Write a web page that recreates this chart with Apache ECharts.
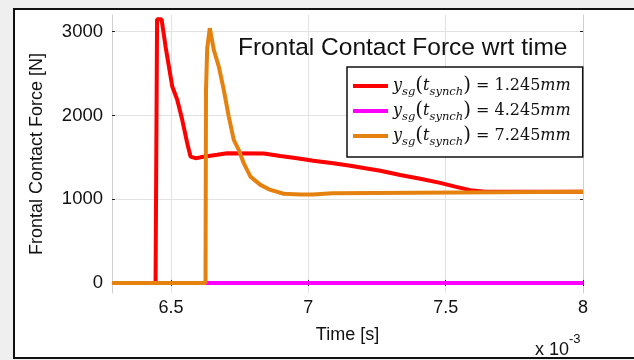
<!DOCTYPE html>
<html><head><meta charset="utf-8">
<script src="https://cdn.jsdelivr.net/npm/echarts@6/dist/echarts.min.js"></script>
<style>html,body{margin:0;padding:0;background:#efefef}#c{width:634px;height:360px}</style>
</head><body><div id="c"></div>
<script>
// time in ms (axis shows x 10^-3 s), force in N
const redT = [6.285, 6.4436, 6.4491, 6.4655, 6.480, 6.5044, 6.5225, 6.5407, 6.5589, 6.5709, 6.5891, 6.6073, 6.668, 6.7044, 6.8375, 6.8982, 6.9589, 7.0182, 7.0909, 7.1527, 7.2618, 7.3345, 7.4073, 7.48, 7.5345, 7.5891, 7.6436, 8.0];
const redF = [0, 0, 3150, 3150, 2823, 2346, 2187, 1948, 1669, 1509, 1490, 1500, 1530, 1550, 1545, 1515, 1490, 1460, 1430, 1400, 1340, 1290, 1245, 1195, 1150, 1108, 1090, 1088];
const magT = [6.285, 8.0];
const magF = [0, 0];
const oraT = [6.285, 6.6255, 6.6273, 6.6316, 6.6411, 6.6556, 6.6738, 6.692, 6.7102, 6.7284, 6.7465, 6.7647, 6.7891, 6.8255, 6.8618, 6.9102, 6.9709, 7.0164, 7.02, 7.0873, 7.0909, 8.0];
const oraF = [0, 0, 2300, 2800, 3043, 2784, 2585, 2306, 1987, 1709, 1589, 1430, 1270, 1171, 1111, 1065, 1055, 1055, 1072, 1072, 1088, 1088];
const xTicks = [6.5, 7, 7.5, 8];
const yTicks = [0, 1000, 2000, 3000];
const legendVals = ['1.245', '4.245', '7.245'];
const seriesNames = ['s1', 's2', 's3'];

const zip = (a, b) => a.map((v, i) => [v, b[i]]);
const chart = echarts.init(document.getElementById('c'));
const sans = 'Liberation Sans';
const serif = 'DejaVu Serif';
const tickStyle = { show: true, inside: true, length: 3, lineStyle: { color: '#222', width: 1 } };
const lineC = '#cfcfcf';
chart.setOption({
  animation: false,
  backgroundColor: 'transparent',
  graphic: [
    { type: 'rect', z: -100, shape: { x: 0, y: 0, width: 634, height: 360 }, style: { fill: '#efefef' }, silent: true },
    { type: 'rect', z: -99, shape: { x: 14, y: 9, width: 640, height: 349 }, style: { fill: '#fff', stroke: '#111', lineWidth: 2 }, silent: true },
    { type: 'text', left: 535, top: 333, style: { text: '{a|x 10}{b|-3}', rich: {
      a: { fontFamily: sans, fontSize: 18, fill: '#111', lineHeight: 26, verticalAlign: 'bottom' },
      b: { fontFamily: sans, fontSize: 13, fill: '#111', lineHeight: 26, verticalAlign: 'top' } } } }
  ],
  title: { text: 'Frontal Contact Force wrt time', left: 233, top: 31, textStyle: { fontFamily: sans, fontSize: 24.5, fontWeight: 'normal', color: '#111' } },
  legend: {
    orient: 'vertical', left: 347, top: 67, padding: [9, 12, 9, 6], itemGap: 3,
    backgroundColor: '#fff', borderColor: '#111', borderWidth: 1.5,
    itemWidth: 35, itemHeight: 4, icon: 'rect',
    data: seriesNames,
    formatter: function (name) {
      const v = legendVals[seriesNames.indexOf(name)];
      return '{i|y}{s|sg}{p|(}{i|t}{s|synch}{p|)}{n| = ' + v + '}{i|mm}';
    },
    textStyle: { color: '#111', rich: {
      i: { fontFamily: serif, fontStyle: 'italic', fontSize: 16, lineHeight: 24, color: '#111' },
      s: { fontFamily: serif, fontStyle: 'italic', fontSize: 11.5, lineHeight: 12, verticalAlign: 'bottom', color: '#111' },
      p: { fontFamily: serif, fontSize: 20, lineHeight: 24, color: '#111' },
      n: { fontFamily: serif, fontSize: 16, lineHeight: 24, color: '#111' } } }
  },
  grid: { left: 112, top: 15, right: 51, bottom: 67 },
  xAxis: [{
    type: 'value', min: 6.285, max: 8.0,
    name: 'Time [s]', nameLocation: 'middle', nameGap: 33,
    nameTextStyle: { fontFamily: sans, fontSize: 18, color: '#111' },
    axisLine: { show: true, lineStyle: { color: lineC } },
    axisTick: Object.assign({ customValues: xTicks }, tickStyle),
    axisLabel: { customValues: xTicks, fontFamily: sans, fontSize: 18, color: '#111', margin: 6, formatter: v => String(v) },
    splitLine: { show: true, lineStyle: { color: '#e2e2e2', width: 1 } }
  }, {
    type: 'value', position: 'top', min: 6.285, max: 8.0,
    axisLine: { show: true, lineStyle: { color: lineC } },
    axisTick: Object.assign({ customValues: xTicks }, tickStyle),
    axisLabel: { show: false }, splitLine: { show: false }
  }],
  yAxis: [{
    type: 'value', min: -120, max: 3200,
    name: 'Frontal Contact Force [N]', nameLocation: 'middle', nameGap: 66,
    nameTextStyle: { fontFamily: sans, fontSize: 18, color: '#111' },
    axisLine: { show: true, lineStyle: { color: lineC } },
    axisTick: Object.assign({ customValues: yTicks }, tickStyle),
    axisLabel: { customValues: yTicks, fontFamily: sans, fontSize: 18.5, color: '#111', margin: 9, formatter: v => String(v) },
    splitLine: { show: true, lineStyle: { color: '#e2e2e2', width: 1 } }
  }, {
    type: 'value', position: 'right', min: -120, max: 3200,
    axisLine: { show: true, lineStyle: { color: lineC } },
    axisTick: Object.assign({ customValues: yTicks }, tickStyle),
    axisLabel: { show: false }, splitLine: { show: false }
  }],
  series: [
    { name: 's1', type: 'line', data: zip(redT, redF), showSymbol: false, color: '#ff0000', lineStyle: { width: 4, color: '#ff0000' } },
    { name: 's2', type: 'line', data: zip(magT, magF), showSymbol: false, color: '#ff00ff', lineStyle: { width: 4, color: '#ff00ff' } },
    { name: 's3', type: 'line', data: zip(oraT, oraF), showSymbol: false, color: '#e5820f', lineStyle: { width: 4, color: '#e5820f' } }
  ]
});
</script></body></html>
